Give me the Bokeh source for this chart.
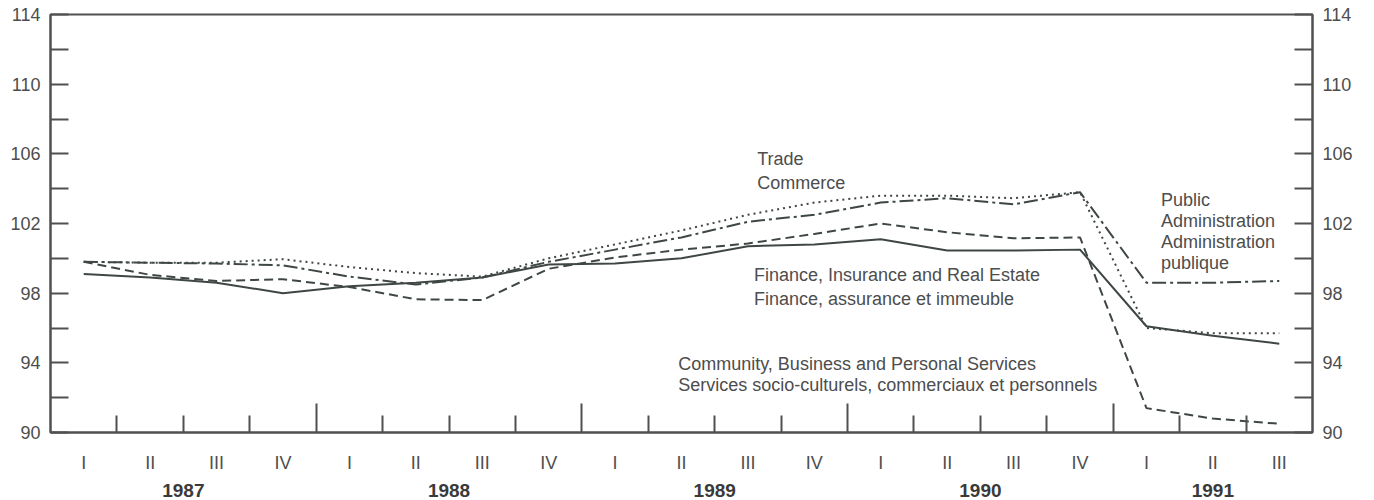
from bokeh.plotting import figure
from bokeh.models import LinearAxis, FixedTicker, Range1d
from bokeh.core.properties import value
from bokeh.embed import file_html
from bokeh.resources import INLINE

# ---- data ----
quarters = ["I", "II", "III", "IV", "I", "II", "III", "IV", "I", "II", "III", "IV",
            "I", "II", "III", "IV", "I", "II", "III"]
years = ["1987", "1988", "1989", "1990", "1991"]
quarters_per_year = [4, 4, 4, 4, 3]

finance = [99.1, 98.9, 98.6, 98.0, 98.4, 98.6, 98.9, 99.65, 99.7, 100.0, 100.7, 100.8,
           101.1, 100.45, 100.45, 100.5, 96.1, 95.55, 95.1]
trade = [99.8, 99.75, 99.75, 99.95, 99.5, 99.15, 98.95, 100.0, 100.8, 101.6, 102.5, 103.2,
         103.6, 103.6, 103.45, 103.8, 96.0, 95.7, 95.7]
public_admin = [99.8, 99.75, 99.7, 99.6, 98.95, 98.5, 98.9, 99.8, 100.5, 101.2, 102.1, 102.5,
                103.2, 103.45, 103.1, 103.8, 98.6, 98.6, 98.7]
community = [99.8, 99.05, 98.7, 98.8, 98.35, 97.65, 97.6, 99.4, 100.05, 100.5, 100.85, 101.4,
             102.0, 101.5, 101.15, 101.2, 91.4, 90.8, 90.5]

y_ticks = [90, 94, 98, 102, 106, 110, 114]
y_minor = [92, 96, 100, 104, 108, 112]

label_text = ["Trade", "Commerce",
              "Public", "Administration", "Administration", "publique",
              "Finance, Insurance and Real Estate", "Finance, assurance et immeuble",
              "Community, Business and Personal Services",
              "Services socio-culturels, commerciaux et personnels"]
label_x = [10.14, 10.14, 16.22, 16.22, 16.22, 16.22, 10.09, 10.09, 8.95, 8.95]
label_y = [105.7, 104.3, 103.37, 102.17, 100.94, 99.76, 99.06, 97.68, 93.95, 92.74]

# ---- derived positions ----
x = list(range(len(quarters)))
year_bounds, year_centers, start = [], [], 0
for n in quarters_per_year:
    year_centers.append(start + (n - 1) / 2)
    start += n
    if start < len(quarters):
        year_bounds.append(start - 0.5)
quarter_bounds = [i + 0.5 for i in range(len(quarters) - 1) if (i + 0.5) not in year_bounds]

FONT = "Liberation Sans"
TXT = "#4d4d4d"
AX = "#505050"
LN = "#3f4744"

p = figure(frame_width=1262, frame_height=418,
           x_range=Range1d(-0.5, len(quarters) - 0.5), y_range=Range1d(90, 114),
           output_backend="svg", toolbar_location=None,
           x_axis_location=None, y_axis_location=None,
           min_border_left=50, min_border_right=54, min_border_top=14, min_border_bottom=0)
p.xgrid.visible = False
p.ygrid.visible = False
p.outline_line_color = AX
p.outline_line_width = 2
p.background_fill_color = "white"
p.border_fill_color = "white"


def style_y(ax):
    ax.ticker = FixedTicker(ticks=y_ticks, minor_ticks=y_minor)
    ax.major_tick_in = 18
    ax.major_tick_out = 0
    ax.minor_tick_in = 18
    ax.minor_tick_out = 0
    ax.major_tick_line_width = 2
    ax.minor_tick_line_width = 2
    ax.major_tick_line_color = AX
    ax.minor_tick_line_color = AX
    ax.axis_line_color = AX
    ax.axis_line_width = 2
    ax.major_label_text_font = FONT
    ax.major_label_text_font_size = "18px"
    ax.major_label_text_color = TXT
    ax.major_label_standoff = 10


left = LinearAxis()
style_y(left)
p.add_layout(left, "left")
right = LinearAxis()
style_y(right)
p.add_layout(right, "right")

# bottom tick axis (quarter and year boundaries), no labels of its own
ax_ticks = LinearAxis(ticker=FixedTicker(ticks=year_bounds, minor_ticks=quarter_bounds),
                      major_label_overrides={b: "" for b in year_bounds})
ax_ticks.major_tick_in = 29
ax_ticks.major_tick_out = 0
ax_ticks.minor_tick_in = 17
ax_ticks.minor_tick_out = 0
ax_ticks.major_tick_line_width = 2
ax_ticks.minor_tick_line_width = 2
ax_ticks.major_tick_line_color = AX
ax_ticks.minor_tick_line_color = AX
ax_ticks.axis_line_color = AX
ax_ticks.axis_line_width = 2
ax_ticks.major_label_text_font_size = "2px"
ax_ticks.major_label_standoff = 0
p.add_layout(ax_ticks, "below")

# quarter labels
ax_q = LinearAxis(ticker=FixedTicker(ticks=x, minor_ticks=[]),
                  major_label_overrides={i: q for i, q in zip(x, quarters)})
ax_q.axis_line_color = None
ax_q.major_tick_line_color = None
ax_q.minor_tick_line_color = None
ax_q.major_tick_out = 0
ax_q.major_label_standoff = 20
ax_q.major_label_text_font = FONT
ax_q.major_label_text_font_size = "18px"
ax_q.major_label_text_color = TXT
p.add_layout(ax_q, "below")

# year labels
ax_y = LinearAxis(ticker=FixedTicker(ticks=year_centers, minor_ticks=[]),
                  major_label_overrides={c: y for c, y in zip(year_centers, years)})
ax_y.axis_line_color = None
ax_y.major_tick_line_color = None
ax_y.minor_tick_line_color = None
ax_y.major_tick_out = 0
ax_y.major_label_standoff = 8
ax_y.major_label_text_font = FONT
ax_y.major_label_text_font_size = "19px"
ax_y.major_label_text_font_style = "bold"
ax_y.major_label_text_color = "#3a3a3a"
p.add_layout(ax_y, "below")

# series
p.line(x, finance, line_color=LN, line_width=2)
p.line(x, trade, line_color=LN, line_width=2, line_dash="2 4")
p.line(x, public_admin, line_color=LN, line_width=2, line_dash="14 4 3 4")
p.line(x, community, line_color=LN, line_width=2, line_dash="9 5")

p.text(x=label_x, y=label_y, text=label_text, text_font=value(FONT),
       text_font_size="18px", text_color=TXT, text_align="left", text_baseline="middle")

open("out.html", "w").write(file_html(p, INLINE))
